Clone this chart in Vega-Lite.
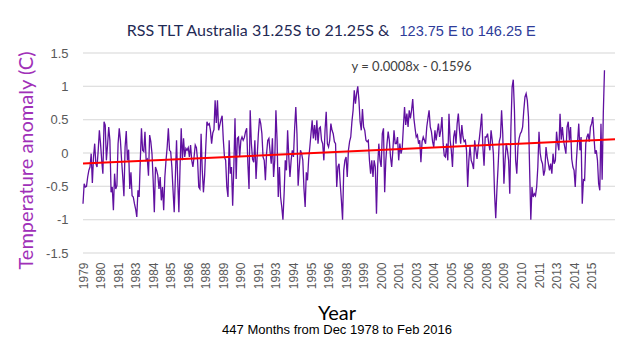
{
"$schema": "https://vega.github.io/schema/vega-lite/v6.json",
"width": 532, "height": 200,
"autosize": {"type": "none"},
"padding": {"left": 83, "top": 53, "right": 25, "bottom": 101},
"background": "white",
"config": {"view": {"stroke": null}, "font": "Lato"},
"title": {"text": "Year", "subtitle": "447 Months from Dec 1978 to Feb 2016", "orient": "bottom", "anchor": "middle", "frame": "group", "dx": -12, "offset": 15, "fontSize": 20, "font": "Lato", "fontWeight": "normal", "color": "black", "subtitleFontSize": 13, "subtitleFont": "Liberation Sans", "subtitleColor": "black", "subtitlePadding": 0},
"datasets": {
"rss": [
{"i":0,"v":-0.76},{"i":1,"v":-0.46},{"i":2,"v":-0.51},{"i":3,"v":-0.5},{"i":4,"v":-0.36},{"i":5,"v":-0.26},{"i":6,"v":-0.21},{"i":7,"v":-0.01},{"i":8,"v":-0.45},{"i":9,"v":-0.06},
{"i":10,"v":0.14},{"i":11,"v":-0.16},{"i":12,"v":-0.21},{"i":13,"v":0.04},{"i":14,"v":0.34},{"i":15,"v":0.14},{"i":16,"v":-0.11},{"i":17,"v":-0.31},{"i":18,"v":0.47},{"i":19,"v":0.42},
{"i":20,"v":-0.11},{"i":21,"v":0.12},{"i":22,"v":0.39},{"i":23,"v":0.19},{"i":24,"v":-0.59},{"i":25,"v":-0.51},{"i":26,"v":-0.86},{"i":27,"v":-0.31},{"i":28,"v":-0.54},{"i":29,"v":-0.49},
{"i":30,"v":0.14},{"i":31,"v":0.37},{"i":32,"v":0.19},{"i":33,"v":-0.11},{"i":34,"v":-0.36},{"i":35,"v":-0.65},{"i":36,"v":0.09},{"i":37,"v":0.33},{"i":38,"v":-0.11},{"i":39,"v":0.05},
{"i":40,"v":-0.54},{"i":41,"v":-0.29},{"i":42,"v":-0.64},{"i":43,"v":-0.66},{"i":44,"v":-0.76},{"i":45,"v":-0.84},{"i":46,"v":-0.96},{"i":47,"v":-0.56},{"i":48,"v":-0.66},{"i":49,"v":-0.11},
{"i":50,"v":0.37},{"i":51,"v":0.04},{"i":52,"v":0.02},{"i":53,"v":0.32},{"i":54,"v":-0.11},{"i":55,"v":-0.09},{"i":56,"v":-0.34},{"i":57,"v":0.27},{"i":58,"v":0.17},{"i":59,"v":-0.01},
{"i":60,"v":-0.41},{"i":61,"v":-0.89},{"i":62,"v":-0.21},{"i":63,"v":-0.26},{"i":64,"v":-0.34},{"i":65,"v":-0.54},{"i":66,"v":-0.36},{"i":67,"v":-0.71},{"i":68,"v":-0.51},{"i":69,"v":-0.86},
{"i":70,"v":-0.36},{"i":71,"v":-0.11},{"i":72,"v":0.09},{"i":73,"v":0.37},{"i":74,"v":0.04},{"i":75,"v":0.02},{"i":76,"v":-0.21},{"i":77,"v":-0.56},{"i":78,"v":-0.89},{"i":79,"v":-0.36},
{"i":80,"v":0.19},{"i":81,"v":-0.41},{"i":82,"v":-0.89},{"i":83,"v":-0.21},{"i":84,"v":0.37},{"i":85,"v":-0.11},{"i":86,"v":0.22},{"i":87,"v":-0.06},{"i":88,"v":0.07},{"i":89,"v":0.04},
{"i":90,"v":0.08},{"i":91,"v":-0.06},{"i":92,"v":0.12},{"i":93,"v":-0.11},{"i":94,"v":-0.21},{"i":95,"v":-0.06},{"i":96,"v":0.12},{"i":97,"v":0.08},{"i":98,"v":-0.11},{"i":99,"v":-0.51},
{"i":100,"v":-0.54},{"i":101,"v":0.29},{"i":102,"v":-0.26},{"i":103,"v":-0.59},{"i":104,"v":-0.34},{"i":105,"v":0.09},{"i":106,"v":0.47},{"i":107,"v":0.42},{"i":108,"v":0.44},{"i":109,"v":0.34},
{"i":110,"v":0.14},{"i":111,"v":0.3},{"i":112,"v":0.35},{"i":113,"v":0.79},{"i":114,"v":0.45},{"i":115,"v":0.79},{"i":116,"v":0.34},{"i":117,"v":0.42},{"i":118,"v":0.5},{"i":119,"v":0.56},
{"i":120,"v":0.2},{"i":121,"v":-0.06},{"i":122,"v":-0.11},{"i":123,"v":-0.51},{"i":124,"v":-0.66},{"i":125,"v":0.19},{"i":126,"v":-0.31},{"i":127,"v":-0.21},{"i":128,"v":-0.79},{"i":129,"v":-0.21},
{"i":130,"v":0.52},{"i":131,"v":-0.39},{"i":132,"v":0.22},{"i":133,"v":0.24},{"i":134,"v":-0.06},{"i":135,"v":0.19},{"i":136,"v":0.24},{"i":137,"v":0.19},{"i":138,"v":0.23},{"i":139,"v":0.32},
{"i":140,"v":0.37},{"i":141,"v":-0.16},{"i":142,"v":-0.54},{"i":143,"v":0.64},{"i":144,"v":0.14},{"i":145,"v":-0.09},{"i":146,"v":-0.14},{"i":147,"v":0.19},{"i":148,"v":-0.39},{"i":149,"v":-0.04},
{"i":150,"v":0.29},{"i":151,"v":0.52},{"i":152,"v":0.44},{"i":153,"v":0.29},{"i":154,"v":-0.06},{"i":155,"v":-0.11},{"i":156,"v":-0.41},{"i":157,"v":-0.01},{"i":158,"v":0.19},{"i":159,"v":0.22},
{"i":160,"v":0.02},{"i":161,"v":-0.16},{"i":162,"v":0.22},{"i":163,"v":-0.36},{"i":164,"v":-0.11},{"i":165,"v":0.64},{"i":166,"v":0.19},{"i":167,"v":-0.66},{"i":168,"v":-0.21},{"i":169,"v":-0.66},
{"i":170,"v":-0.81},{"i":171,"v":-1.0},{"i":172,"v":-0.61},{"i":173,"v":-0.11},{"i":174,"v":-0.26},{"i":175,"v":0.34},{"i":176,"v":-0.06},{"i":177,"v":-0.36},{"i":178,"v":-0.11},{"i":179,"v":0.04},
{"i":180,"v":-0.06},{"i":181,"v":0.37},{"i":182,"v":0.69},{"i":183,"v":0.29},{"i":184,"v":-0.49},{"i":185,"v":-0.21},{"i":186,"v":0.04},{"i":187,"v":-0.01},{"i":188,"v":-0.11},{"i":189,"v":-0.54},
{"i":190,"v":-0.81},{"i":191,"v":-0.29},{"i":192,"v":-0.41},{"i":193,"v":-0.09},{"i":194,"v":0.09},{"i":195,"v":0.29},{"i":196,"v":0.49},{"i":197,"v":0.22},{"i":198,"v":0.42},{"i":199,"v":0.19},
{"i":200,"v":0.49},{"i":201,"v":0.14},{"i":202,"v":0.37},{"i":203,"v":0.39},{"i":204,"v":0.19},{"i":205,"v":0.14},{"i":206,"v":-0.11},{"i":207,"v":0.34},{"i":208,"v":0.62},{"i":209,"v":0.14},
{"i":210,"v":0.09},{"i":211,"v":0.19},{"i":212,"v":0.44},{"i":213,"v":0.34},{"i":214,"v":0.29},{"i":215,"v":0.17},{"i":216,"v":0.14},{"i":217,"v":-0.51},{"i":218,"v":-0.21},{"i":219,"v":-0.16},
{"i":220,"v":-0.46},{"i":221,"v":-0.71},{"i":222,"v":-1.0},{"i":223,"v":-0.26},{"i":224,"v":-0.11},{"i":225,"v":-0.06},{"i":226,"v":-0.36},{"i":227,"v":0.04},{"i":228,"v":0.17},{"i":229,"v":0.24},
{"i":230,"v":0.47},{"i":231,"v":0.64},{"i":232,"v":0.94},{"i":233,"v":0.74},{"i":234,"v":0.89},{"i":235,"v":1.0},{"i":236,"v":0.79},{"i":237,"v":0.47},{"i":238,"v":0.34},{"i":239,"v":0.66},
{"i":240,"v":0.39},{"i":241,"v":0.34},{"i":242,"v":0.19},{"i":243,"v":0.17},{"i":244,"v":0.19},{"i":245,"v":-0.11},{"i":246,"v":-0.31},{"i":247,"v":-0.11},{"i":248,"v":-0.36},{"i":249,"v":-0.11},
{"i":250,"v":-0.21},{"i":251,"v":-0.91},{"i":252,"v":-0.21},{"i":253,"v":0.14},{"i":254,"v":-0.11},{"i":255,"v":-0.21},{"i":256,"v":0.29},{"i":257,"v":0.37},{"i":258,"v":-0.59},{"i":259,"v":-0.11},
{"i":260,"v":0.14},{"i":261,"v":0.32},{"i":262,"v":0.19},{"i":263,"v":-0.06},{"i":264,"v":-0.21},{"i":265,"v":0.04},{"i":266,"v":0.34},{"i":267,"v":0.14},{"i":268,"v":0.14},{"i":269,"v":0.24},
{"i":270,"v":-0.11},{"i":271,"v":0.14},{"i":272,"v":-0.01},{"i":273,"v":0.07},{"i":274,"v":0.39},{"i":275,"v":0.69},{"i":276,"v":0.42},{"i":277,"v":0.59},{"i":278,"v":0.39},{"i":279,"v":0.64},
{"i":280,"v":0.52},{"i":281,"v":0.64},{"i":282,"v":0.81},{"i":283,"v":0.52},{"i":284,"v":0.37},{"i":285,"v":0.24},{"i":286,"v":0.27},{"i":287,"v":0.14},{"i":288,"v":0.19},{"i":289,"v":-0.14},
{"i":290,"v":0.17},{"i":291,"v":0.24},{"i":292,"v":0.19},{"i":293,"v":0.14},{"i":294,"v":0.39},{"i":295,"v":0.52},{"i":296,"v":0.64},{"i":297,"v":0.39},{"i":298,"v":0.32},{"i":299,"v":0.17},
{"i":300,"v":0.09},{"i":301,"v":0.34},{"i":302,"v":0.19},{"i":303,"v":0.32},{"i":304,"v":0.44},{"i":305,"v":0.24},{"i":306,"v":0.34},{"i":307,"v":0.54},{"i":308,"v":0.14},{"i":309,"v":-0.04},
{"i":310,"v":-0.06},{"i":311,"v":0.14},{"i":312,"v":-0.11},{"i":313,"v":0.59},{"i":314,"v":0.19},{"i":315,"v":0.04},{"i":316,"v":-0.21},{"i":317,"v":0.24},{"i":318,"v":0.34},{"i":319,"v":0.14},
{"i":320,"v":0.44},{"i":321,"v":0.59},{"i":322,"v":0.34},{"i":323,"v":0.14},{"i":324,"v":0.42},{"i":325,"v":0.24},{"i":326,"v":0.17},{"i":327,"v":0.19},{"i":328,"v":0.04},{"i":329,"v":-0.51},
{"i":330,"v":-0.11},{"i":331,"v":0.1},{"i":332,"v":-0.11},{"i":333,"v":-0.16},{"i":334,"v":-0.24},{"i":335,"v":0.19},{"i":336,"v":0.04},{"i":337,"v":-0.09},{"i":338,"v":0.09},{"i":339,"v":0.22},
{"i":340,"v":0.39},{"i":341,"v":0.59},{"i":342,"v":0.09},{"i":343,"v":-0.19},{"i":344,"v":0.24},{"i":345,"v":0.24},{"i":346,"v":0.29},{"i":347,"v":0.14},{"i":348,"v":0.04},{"i":349,"v":0.34},
{"i":350,"v":0.19},{"i":351,"v":-0.01},{"i":352,"v":-0.61},{"i":353,"v":-0.98},{"i":354,"v":-0.55},{"i":355,"v":-0.21},{"i":356,"v":0.17},{"i":357,"v":0.24},{"i":358,"v":0.64},{"i":359,"v":0.29},
{"i":360,"v":-0.46},{"i":361,"v":-0.1},{"i":362,"v":0.14},{"i":363,"v":0.04},{"i":364,"v":-0.11},{"i":365,"v":-0.61},{"i":366,"v":0.39},{"i":367,"v":0.99},{"i":368,"v":1.1},{"i":369,"v":0.64},
{"i":370,"v":-0.11},{"i":371,"v":-0.31},{"i":372,"v":0.09},{"i":373,"v":0.22},{"i":374,"v":0.29},{"i":375,"v":0.32},{"i":376,"v":0.39},{"i":377,"v":0.64},{"i":378,"v":0.84},{"i":379,"v":0.89},
{"i":380,"v":0.79},{"i":381,"v":0.54},{"i":382,"v":-0.26},{"i":383,"v":-1.0},{"i":384,"v":-0.51},{"i":385,"v":-0.66},{"i":386,"v":-0.61},{"i":387,"v":-0.64},{"i":388,"v":-0.51},{"i":389,"v":-0.21},
{"i":390,"v":0.32},{"i":391,"v":0.0},{"i":392,"v":-0.11},{"i":393,"v":-0.16},{"i":394,"v":-0.34},{"i":395,"v":-0.26},{"i":396,"v":0.09},{"i":397,"v":-0.06},{"i":398,"v":-0.16},{"i":399,"v":-0.26},
{"i":400,"v":-0.16},{"i":401,"v":-0.31},{"i":402,"v":-0.01},{"i":403,"v":-0.16},{"i":404,"v":-0.11},{"i":405,"v":0.32},{"i":406,"v":0.14},{"i":407,"v":0.04},{"i":408,"v":0.59},{"i":409,"v":0.2},
{"i":410,"v":0.39},{"i":411,"v":0.19},{"i":412,"v":0.09},{"i":413,"v":-0.01},{"i":414,"v":0.39},{"i":415,"v":0.47},{"i":416,"v":0.19},{"i":417,"v":0.39},{"i":418,"v":-0.09},{"i":419,"v":-0.21},
{"i":420,"v":-0.26},{"i":421,"v":-0.51},{"i":422,"v":-0.11},{"i":423,"v":0.17},{"i":424,"v":0.44},{"i":425,"v":0.04},{"i":426,"v":0.24},{"i":427,"v":-0.76},{"i":428,"v":-0.4},{"i":429,"v":-0.41},
{"i":430,"v":0.14},{"i":431,"v":0.24},{"i":432,"v":0.29},{"i":433,"v":0.17},{"i":434,"v":0.39},{"i":435,"v":0.44},{"i":436,"v":0.54},{"i":437,"v":0.24},{"i":438,"v":-0.01},{"i":439,"v":0.04},
{"i":440,"v":-0.11},{"i":441,"v":-0.46},{"i":442,"v":-0.56},{"i":443,"v":0.44},{"i":444,"v":-0.4},{"i":445,"v":0.6},{"i":446,"v":1.24}
],
"trend": [{"i":0,"v":-0.1588},{"i":455,"v":0.2052}],
"eq": [{"i":281,"v":1.29,"label":"y = 0.0008x - 0.1596"}],
"hlines": [{"i":0,"i2":455,"v":-1.5075,"v2":-1.4925},{"i":0,"i2":455,"v":-1.0075,"v2":-0.9925},{"i":0,"i2":455,"v":-0.5075,"v2":-0.4925},{"i":0,"i2":455,"v":-0.0075,"v2":0.0075},{"i":0,"i2":455,"v":0.4925,"v2":0.5075},{"i":0,"i2":455,"v":0.9925,"v2":1.0075},{"i":0,"i2":455,"v":1.4925,"v2":1.5075}]
},
"encoding": {
  "y": {"field": "v", "type": "quantitative", "scale": {"domain": [-1.5, 1.5], "nice": false},
   "axis": {"tickCount": 6, "labelExpr": "datum.value", "grid": false, "ticks": false, "domain": false,
    "labelFont": "Liberation Sans", "labelFontSize": 13, "labelColor": "#595959", "labelPadding": 15, "labelOverlap": false,
    "title": "Temperature anomaly (C)", "titleFont": "Lato", "titleFontSize": 20, "titleFontWeight": "normal", "titleColor": "#A030B8", "titlePadding": 9, "titleY": 107}}
},
"layer": [
{"data": {"name": "hlines"},
 "mark": {"type": "rect", "color": "#d6d6d6", "opacity": 1},
 "encoding": {"x": {"field": "i", "type": "quantitative", "axis": null}, "x2": {"field": "i2"}, "y2": {"field": "v2"}}},
{"data": {"name": "rss"},
 "mark": {"type": "line", "color": "#6010A0", "strokeWidth": 1.3},
 "encoding": {
  "x": {"field": "i", "type": "quantitative", "scale": {"domain": [0, 455], "nice": false, "zero": false},
   "axis": {"values": [0,15,30,45,60,75,90,105,120,135,150,165,180,195,210,225,240,255,270,285,300,315,330,345,360,375,390,405,420,435],
    "labelExpr": "'' + round(1978 + 11/12 + datum.value/12)", "labelAngle": 270, "grid": false, "ticks": false, "domain": false,
    "labelFont": "Liberation Sans", "labelFontSize": 12, "labelColor": "#595959", "labelPadding": 9, "labelOverlap": false, "title": null, "orient": "bottom"}}
 }},
{"data": {"name": "trend"},
 "mark": {"type": "line", "color": "#FF0000", "strokeWidth": 2},
 "encoding": {
  "x": {"field": "i", "type": "quantitative",
   "axis": {"orient": "top", "labels": false, "ticks": false, "domain": false, "grid": false,
    "title": "RSS TLT Australia 31.25S to 21.25S &", "titleFont": "Lato", "titleFontSize": 16, "titleFontWeight": "normal", "titleColor": "#1F2A55",
    "titleAlign": "right", "titleBaseline": "alphabetic", "titleX": 306, "titleY": -18}}
 }},
{"data": {"name": "eq"},
 "mark": {"type": "text", "font": "Lato", "fontSize": 13, "color": "#404040", "align": "center", "baseline": "middle"},
 "encoding": {
  "x": {"field": "i", "type": "quantitative",
   "axis": {"orient": "top", "labels": false, "ticks": false, "domain": false, "grid": false,
    "title": "123.75 E to 146.25 E", "titleFont": "Liberation Sans", "titleFontSize": 14.5, "titleFontWeight": "normal", "titleColor": "#2E3C9A",
    "titleAlign": "left", "titleBaseline": "alphabetic", "titleX": 316, "titleY": -18}},
  "text": {"field": "label"}
 }}
],
"resolve": {"axis": {"x": "independent"}}
}
